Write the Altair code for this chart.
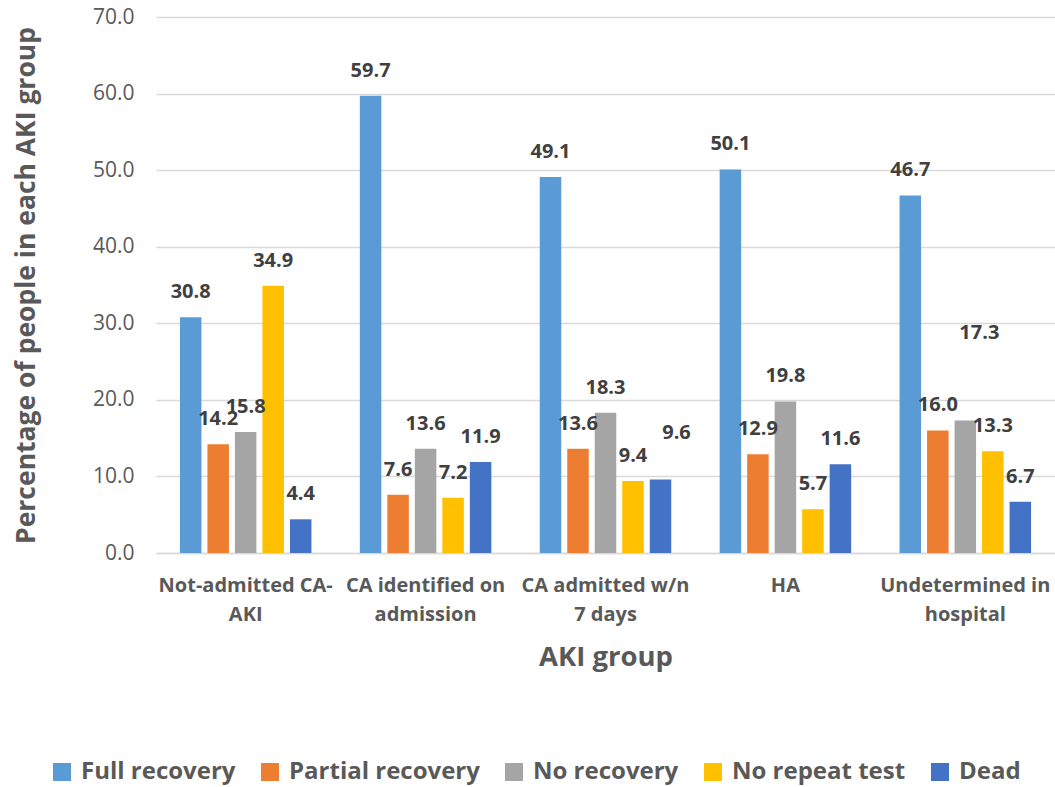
import json
import altair as alt
import pandas as pd

categories = ["Not-admitted CA-AKI", "CA identified on admission", "CA admitted w/n 7 days", "HA", "Undetermined in hospital"]
category_lines = [["Not-admitted CA-", "AKI"], ["CA identified on", "admission"], ["CA admitted w/n", "7 days"], ["HA"], ["Undetermined in", "hospital"]]
series = ["Full recovery", "Partial recovery", "No recovery", "No repeat test", "Dead"]
colors = ["#5B9BD5", "#ED7D31", "#A5A5A5", "#FFC000", "#4472C4"]

full_recovery = [30.8, 59.7, 49.1, 50.1, 46.7]
partial_recovery = [14.2, 7.6, 13.6, 12.9, 16.0]
no_recovery = [15.8, 13.6, 18.3, 19.8, 17.3]
no_repeat_test = [34.9, 7.2, 9.4, 5.7, 13.3]
dead = [4.4, 11.9, 9.6, 11.6, 6.7]

# manually moved data labels in the reference (pixel nudges: dx, dy)
label_nudges = {("CA admitted w/n 7 days", "Dead"): (16, -21),
                ("Undetermined in hospital", "No recovery"): (14, -63)}

values = [full_recovery, partial_recovery, no_recovery, no_repeat_test, dead]
rows = []
for s, vals in zip(series, values):
    for c, v in zip(categories, vals):
        rows.append({"group": c, "outcome": s, "pct": v})
df = pd.DataFrame(rows)

label_map = json.dumps(dict(zip(categories, category_lines)))
FONT = "Open Sans"

x = alt.X("group:N", sort=categories,
          scale=alt.Scale(paddingInner=0.269, paddingOuter=0.133),
          axis=alt.Axis(title="AKI group", labelAngle=0, labelExpr=f"{label_map}[datum.label]",
                        labelFont=FONT, labelFontSize=20, labelFontWeight="bold", labelColor="#595959",
                        labelLineHeight=29, labelPadding=22, ticks=False, domainColor="#D9D9D9",
                        domainWidth=1.5, labelLimit=220,
                        titleFont=FONT, titleFontSize=27.5, titleFontWeight="bold",
                        titleColor="#595959", titlePadding=19))
xo = alt.XOffset("outcome:N", sort=series, scale=alt.Scale(paddingInner=0.218, paddingOuter=0))
y = alt.Y("pct:Q", scale=alt.Scale(domain=[0, 70]),
          axis=alt.Axis(title="Percentage of people in each AKI group", values=list(range(0, 71, 10)),
                        format=".1f", labelFont=FONT, labelFontSize=21, labelColor="#595959",
                        labelPadding=22, ticks=False, domain=False, gridColor="#D9D9D9", gridWidth=1.5,
                        titleFont=FONT, titleFontSize=26.5, titleFontWeight="bold",
                        titleColor="#595959", titlePadding=52))
color = alt.Color("outcome:N", sort=series, scale=alt.Scale(domain=series, range=colors),
                  legend=alt.Legend(title=None, orient="none", legendX=-106, legendY=743, direction="horizontal",
                                    columns=5, symbolType="square", symbolSize=324, symbolStrokeWidth=0,
                                    labelFont=FONT, labelFontSize=24, labelFontWeight="bold",
                                    labelColor="#595959", columnPadding=22, labelOffset=7, labelLimit=300))

bars = alt.Chart(df).mark_bar().encode(x=x, xOffset=xo, y=y, color=color)


def label_layer(data, dx=0, dy=0):
    return alt.Chart(data).mark_text(font=FONT, fontSize=20, fontWeight="bold", color="#404040",
                                     baseline="middle", dx=dx, dy=-25 + dy).encode(
        x=alt.X("group:N", sort=categories), xOffset=alt.XOffset("outcome:N", sort=series), y="pct:Q",
        text=alt.Text("pct:Q", format=".1f"))


moved = df.apply(lambda r: (r["group"], r["outcome"]) in label_nudges, axis=1)
layers = [bars, label_layer(df[~moved])]
for (g, s), (ddx, ddy) in label_nudges.items():
    layers.append(label_layer(df[(df["group"] == g) & (df["outcome"] == s)], ddx, ddy))

chart = alt.layer(*layers).properties(
    width=899, height=536,
    autosize=alt.AutoSizeParams(type="none"),
    padding={"left": 156, "top": 17, "right": 0, "bottom": 234},
).configure_view(stroke=None)

chart.save("out.html", embed_options={"renderer": "svg", "actions": False})
